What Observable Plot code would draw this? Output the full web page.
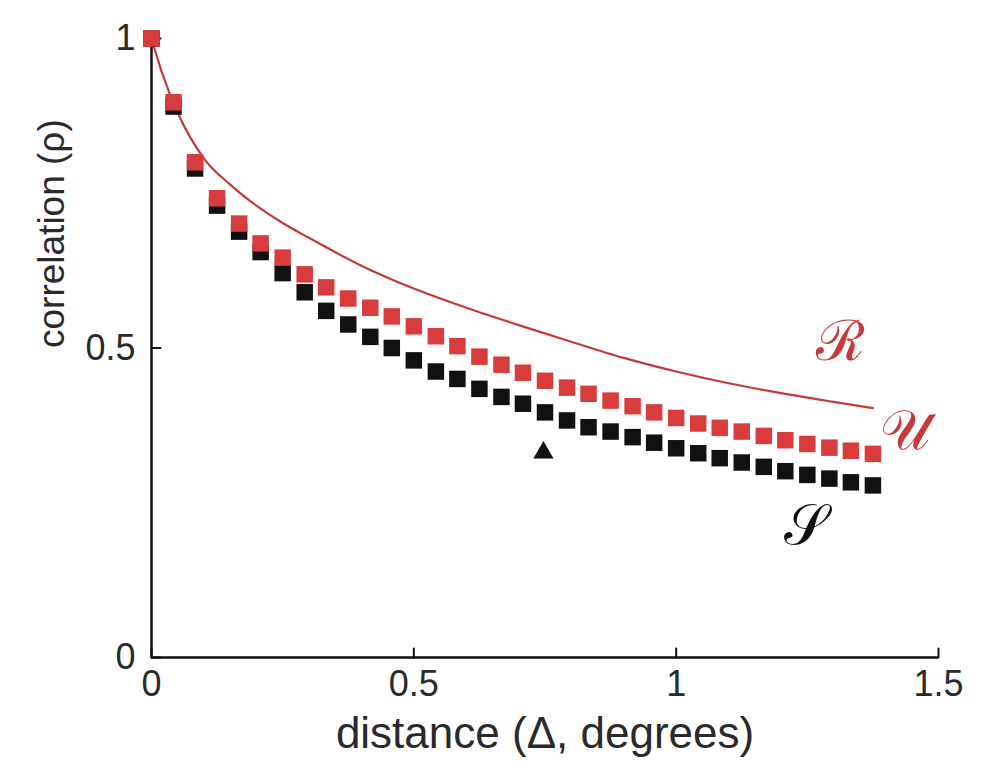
<!DOCTYPE html>
<html>
<head>
<meta charset="utf-8">
<script src="https://cdn.jsdelivr.net/npm/d3@7"></script>
<script src="https://cdn.jsdelivr.net/npm/@observablehq/plot@0.6"></script>
<style>
  html, body { margin: 0; padding: 0; background: #fff; }
</style>
</head>
<body>
<div id="chart"></div>
<script>
// distance (Δ, degrees) for the marker series
const distance = [0, 0.042, 0.083, 0.125, 0.167, 0.208, 0.25, 0.292, 0.333, 0.375, 0.417, 0.458,
  0.5, 0.542, 0.583, 0.625, 0.667, 0.708, 0.75, 0.792, 0.833, 0.875, 0.917, 0.958,
  1.0, 1.042, 1.083, 1.125, 1.167, 1.208, 1.25, 1.292, 1.333, 1.375];
// U series (red squares)
const corrU = [1.0, 0.897, 0.800, 0.742, 0.701, 0.669, 0.646, 0.619, 0.598, 0.580, 0.565, 0.551,
  0.535, 0.519, 0.503, 0.486, 0.473, 0.460, 0.447, 0.436, 0.426, 0.415, 0.406, 0.396,
  0.387, 0.378, 0.371, 0.365, 0.358, 0.351, 0.345, 0.339, 0.334, 0.329];
// S series (black squares)
const corrS = [1.0, 0.89, 0.79, 0.73, 0.688, 0.655, 0.621, 0.590, 0.560, 0.538, 0.518, 0.500,
  0.480, 0.462, 0.450, 0.434, 0.421, 0.410, 0.396, 0.383, 0.372, 0.365, 0.356, 0.347,
  0.338, 0.330, 0.322, 0.315, 0.308, 0.301, 0.295, 0.289, 0.283, 0.278];
// R curve (red line)
const rDistance = [0, 0.02, 0.05, 0.1, 0.15, 0.2, 0.25, 0.3, 0.4, 0.5, 0.6, 0.7, 0.8, 0.9, 1.0, 1.1, 1.2, 1.3, 1.375];
const corrR = [1.0, 0.945, 0.88, 0.806, 0.764, 0.730, 0.702, 0.678, 0.633, 0.596, 0.565, 0.537, 0.510, 0.484, 0.462, 0.443, 0.427, 0.413, 0.403];
// single triangle marker
const triangle = [{x: 0.747, y: 0.331}];
// curve labels
const labels = [
  {text: "ℛ", x: 1.313, y: 0.509, color: "#c83a3a"},
  {text: "𝒰", x: 1.436, y: 0.365, color: "#c83a3a"},
  {text: "𝒮", x: 1.246, y: 0.213, color: "#111111"}
];
const xTicks = [0, 0.5, 1, 1.5];
const yTicks = [0, 0.5, 1];

const uData = distance.map((d, i) => ({x: d, y: corrU[i]}));
const sData = distance.map((d, i) => ({x: d, y: corrS[i]}));
const rData = rDistance.map((d, i) => ({x: d, y: corrR[i]}));

const red = "#d83c3c";
// straight tick stroke for inward tick marks
const stick = {draw(context, l) { context.moveTo(0, 0); context.lineTo(0, -l); }};

const chart = Plot.plot({
  width: 982,
  height: 775,
  marginLeft: 151,
  marginRight: 44,
  marginTop: 38,
  marginBottom: 118,
  x: {domain: [0, 1.5]},
  y: {domain: [0, 1]},
  style: {fontFamily: "'Liberation Sans', Arial, sans-serif", fontSize: "36px", color: "#2a2a2a", background: "#fff"},
  marks: [
    Plot.axisX(xTicks, {tickSize: 0, tickPadding: 13, tickFormat: d => String(d), fontSize: 36, label: null}),
    Plot.axisY(yTicks, {tickSize: 0, tickPadding: 16, tickFormat: d => String(d), fontSize: 36, label: null}),
    Plot.vector(xTicks, {x: d => d, frameAnchor: "bottom", length: 9, rotate: 0, anchor: "start", shape: stick, stroke: "#111", strokeWidth: 2}),
    Plot.vector(yTicks, {y: d => d, frameAnchor: "left", length: 9, rotate: 90, anchor: "start", shape: stick, stroke: "#111", strokeWidth: 2}),
    Plot.ruleY([0], {stroke: "#111", strokeWidth: 2.5}),
    Plot.ruleX([0], {stroke: "#111", strokeWidth: 2.5}),
    Plot.line(rData, {x: "x", y: "y", stroke: "#c43a3a", strokeWidth: 2.2, curve: "monotone-x"}),
    Plot.dot(sData, {x: "x", y: "y", symbol: "square", r: 9.3, fill: "#111", stroke: "none"}),
    Plot.dot(uData, {x: "x", y: "y", symbol: "square", r: 9.3, fill: red, stroke: "none"}),
    Plot.dot(triangle, {x: "x", y: "y", symbol: "triangle", r: 7.5, fill: "#111", stroke: "none"}),
    Plot.text(labels, {x: "x", y: "y", text: "text", fill: d => d.color, fontSize: 56, fontFamily: "'DejaVu Serif', serif"}),
    Plot.text(["distance (Δ, degrees)"], {frameAnchor: "bottom", dy: 90, fontSize: 44}),
    Plot.text(["correlation (ρ)"], {frameAnchor: "left", rotate: -90, dx: -99, fontSize: 37})
  ]
});
document.getElementById("chart").appendChild(chart);
</script>
</body>
</html>
